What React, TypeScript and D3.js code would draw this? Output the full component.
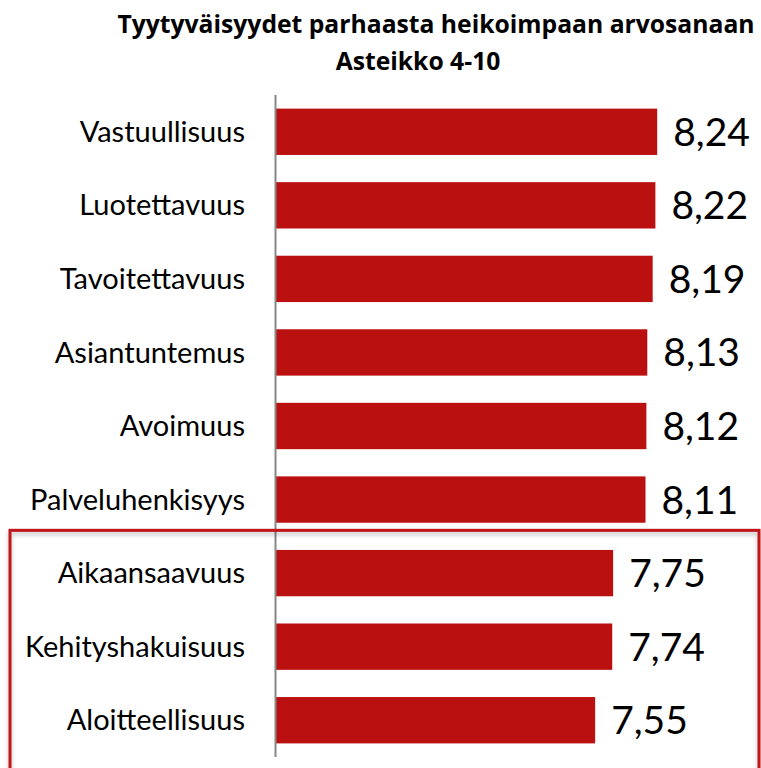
import React from "react";
import { scaleLinear, scaleBand } from "d3";

const categories = [
  "Vastuullisuus",
  "Luotettavuus",
  "Tavoitettavuus",
  "Asiantuntemus",
  "Avoimuus",
  "Palveluhenkisyys",
  "Aikaansaavuus",
  "Kehityshakuisuus",
  "Aloitteellisuus",
];
const values = [8.24, 8.22, 8.19, 8.13, 8.12, 8.11, 7.75, 7.74, 7.55];
const titleLines = ["Tyytyväisyydet parhaasta heikoimpaan arvosanaan", "Asteikko 4-10"];
// the last three are framed in the source picture
const highlightFrom = 6;

const fmt = (v: number) => v.toFixed(2).replace(".", ",");

export default function App() {
  const width = 761;
  const height = 768;
  const axisX = 275.5;
  const top = 95;
  const bottom = 757;

  const x = scaleLinear().domain([4, 10]).range([276, 276 + 6 * 89.9]);
  const y = scaleBand<string>()
    .domain(categories)
    .range([top, bottom])
    .paddingInner(0.37)
    .paddingOuter(0.185);

  const bw = y.bandwidth();
  const lastTop = (y(categories[highlightFrom - 1]) as number) + bw;
  const nextTop = y(categories[highlightFrom]) as number;
  const boxTop = lastTop + (nextTop - lastTop) * 0.28;

  const red = "#bb1010";
  const font = "Lato, 'Open Sans', sans-serif";

  return (
    <svg
      width={width}
      height={height}
      style={{ position: "absolute", left: 0, top: 0, background: "#fff" }}
    >
      <defs>
        <filter id="shadow" x="-5%" y="-5%" width="110%" height="120%">
          <feDropShadow dx="0" dy="3" stdDeviation="2" floodColor="#000" floodOpacity="0.25" />
        </filter>
      </defs>
      <text
        x={436}
        y={33}
        textAnchor="middle"
        fontFamily="'Open Sans', sans-serif"
        fontWeight="bold"
        fontSize={24.7}
        fill="#000"
      >
        {titleLines[0]}
      </text>
      <text
        x={418}
        y={70}
        textAnchor="middle"
        fontFamily="'Open Sans', sans-serif"
        fontWeight="bold"
        fontSize={24.7}
        fill="#000"
      >
        {titleLines[1]}
      </text>

      {categories.map((c, i) => {
        const by = y(c) as number;
        return (
          <g key={c}>
            <rect x={x(4)} y={by} width={x(values[i]) - x(4)} height={bw} fill={red} />
            <text
              x={245}
              y={by + bw / 2}
              dy="0.35em"
              textAnchor="end"
              fontFamily={font}
              fontSize={29}
              fill="#000"
            >
              {c}
            </text>
            <text
              x={x(values[i]) + 16}
              y={by + bw / 2}
              dy="0.36em"
              fontFamily={font}
              fontSize={39}
              fill="#000"
            >
              {fmt(values[i])}
            </text>
          </g>
        );
      })}

      <line x1={axisX} x2={axisX} y1={top} y2={bottom} stroke="#888" strokeWidth={2} />

      <rect
        x={10}
        y={boxTop}
        width={749}
        height={height}
        fill="none"
        stroke="#c0141a"
        strokeWidth={3}
        filter="url(#shadow)"
      />
    </svg>
  );
}
